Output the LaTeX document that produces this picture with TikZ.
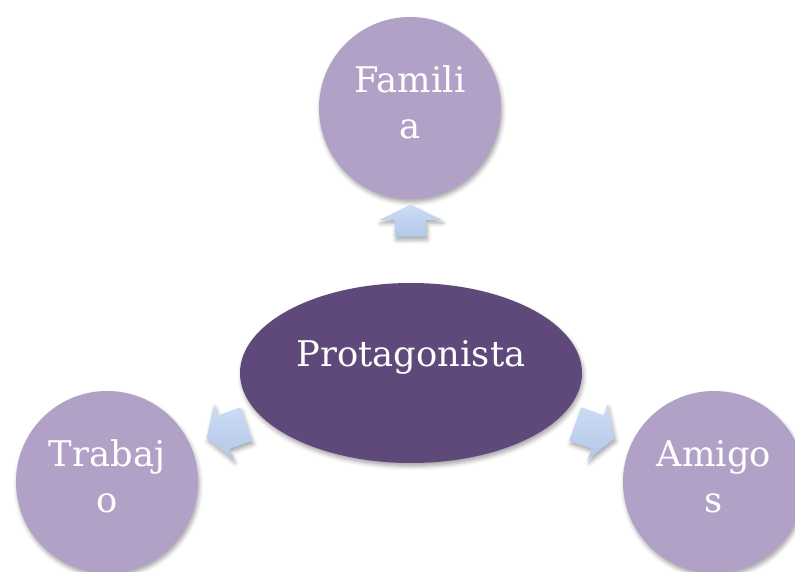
\documentclass[tikz,border=0pt]{standalone}
\usepackage{fontspec}
\setmainfont{DejaVu Serif}
\usepackage{tikz}
\usetikzlibrary{shapes.geometric,shapes.arrows,shadows.blur}
\definecolor{lavender}{HTML}{B2A1C7}
\definecolor{plum}{HTML}{5F497A}
\definecolor{arrowtop}{HTML}{CCDCF4}
\definecolor{arrowbot}{HTML}{B3C7E8}

\begin{document}
\begin{tikzpicture}[x=0.75pt,y=0.75pt,
  softshadow/.style={blur shadow={shadow xshift=1pt,shadow yshift=-2.5pt,
    shadow blur radius=3pt,shadow opacity=35}},
  topic/.style={circle,fill=lavender,minimum size=136.5pt,inner sep=0pt,
    text=white,align=center,font=\fontsize{26.5}{34.5}\selectfont,
    text depth=9pt,softshadow},
  hub/.style={ellipse,fill=plum,minimum width=256.5pt,minimum height=135pt,
    inner sep=0pt,text=white,font=\fontsize{26.5}{34.5}\selectfont,
    text depth=29pt,softshadow},
  pointer/.style={single arrow,inner xsep=0pt,top color=arrowtop,
    bottom color=arrowbot,draw=none,softshadow},
  uppointer/.style={pointer,minimum width=46.5pt,minimum height=24pt,
    inner ysep=11.6pt,single arrow head extend=11.6pt,
    single arrow tip angle=128},
  sidepointer/.style={pointer,minimum width=43.5pt,minimum height=31.5pt,
    inner ysep=13.1pt,single arrow head extend=8.6pt,
    single arrow tip angle=116}]

  % Frame
  \useasboundingbox (0,0) rectangle (795,571);
  \clip (0,0) rectangle (795,571);

  % Centre and topics
  \node[hub] (prot) at (411,198) {Protagonista};
  \node[topic] (fam) at (410,463) {Famili\\a};
  \node[topic] (trab) at (107,89) {Trabaj\\o};
  \node[topic] (amig) at (714,89) {Amigo\\s};

  % Block arrows
  \foreach \t/\p/\k in {fam/0.53/uppointer,trab/0.59/sidepointer,
      amig/0.59/sidepointer}
    \path ([yshift=6pt]prot.center) -- ([yshift=6pt]\t.center)
      node[\k,pos=\p,sloped,allow upside down] {};
\end{tikzpicture}
\end{document}
